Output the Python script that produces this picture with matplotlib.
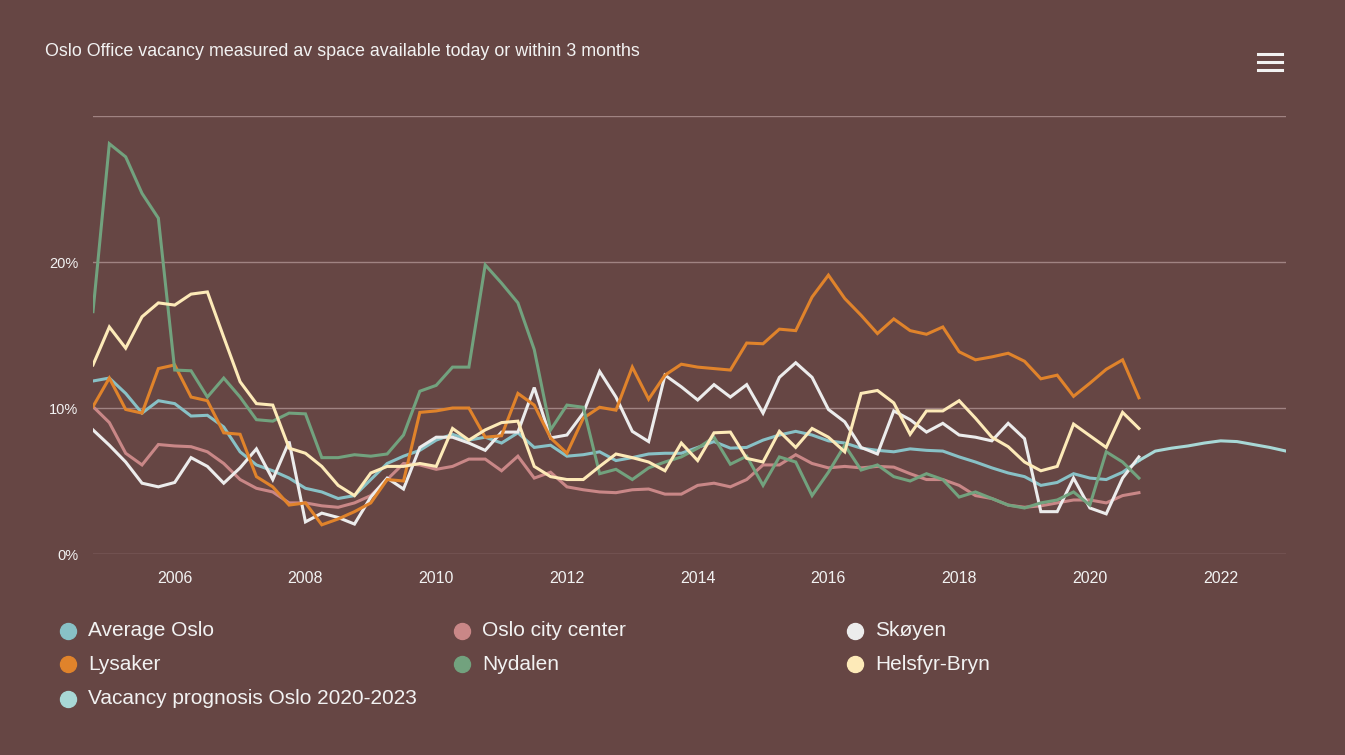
import matplotlib
matplotlib.use("Agg")
import matplotlib.pyplot as plt
from matplotlib.lines import Line2D
import numpy as np

plt.rcParams['font.family'] = ['Liberation Sans', 'DejaVu Sans']

# quarterly observations, Q4 2004 .. Q4 2020
start_year = 2004.75
quarters = np.arange(65) / 4.0 + start_year

average_oslo = [11.85, 12.05, 11.0, 9.65, 10.5, 10.3, 9.45, 9.5, 8.7, 7.0,
                6.1, 5.7, 5.2, 4.5, 4.25, 3.8, 4.0, 5.1, 6.2, 6.7,
                7.1, 7.8, 8.2, 7.8, 8.0, 7.6, 8.3, 7.3, 7.45, 6.7,
                6.8, 7.0, 6.4, 6.6, 6.85, 6.9, 6.9, 7.3, 7.7, 7.25,
                7.3, 7.8, 8.15, 8.4, 8.15, 7.75, 7.6, 7.25, 7.1, 7.0,
                7.2, 7.1, 7.05, 6.65, 6.3, 5.9, 5.55, 5.3, 4.7, 4.9,
                5.5, 5.2, 5.1, 5.6, 6.4]

oslo_city_center = [10.1, 9.0, 6.9, 6.1, 7.5, 7.4, 7.35, 7.0, 6.2, 5.1,
                    4.5, 4.25, 3.5, 3.5, 3.3, 3.2, 3.5, 4.0, 5.1, 6.2,
                    6.1, 5.8, 6.0, 6.5, 6.5, 5.7, 6.7, 5.2, 5.6, 4.6,
                    4.4, 4.25, 4.2, 4.4, 4.45, 4.1, 4.1, 4.7, 4.85, 4.6,
                    5.1, 6.1, 6.1, 6.8, 6.2, 5.9, 6.0, 5.9, 6.0, 5.95,
                    5.5, 5.1, 5.1, 4.7, 4.0, 3.8, 3.35, 3.2, 3.3, 3.5,
                    3.7, 3.7, 3.5, 4.0, 4.2]

skoyen = [8.5, 7.45, 6.3, 4.85, 4.6, 4.9, 6.6, 6.0, 4.85, 5.9,
          7.2, 5.1, 7.7, 2.2, 2.8, 2.5, 2.05, 3.9, 5.2, 4.45,
          7.3, 8.0, 8.0, 7.6, 7.1, 8.35, 8.35, 11.4, 7.95, 8.15,
          9.65, 12.5, 10.75, 8.4, 7.7, 12.25, 11.45, 10.55, 11.6, 10.75,
          11.6, 9.65, 12.1, 13.1, 12.1, 9.9, 9.05, 7.3, 6.85, 9.8,
          9.2, 8.35, 8.95, 8.15, 8.0, 7.75, 8.95, 7.9, 2.9, 2.9,
          5.2, 3.15, 2.75, 5.2, 6.65]

lysaker = [10.1, 12.05, 9.9, 9.65, 12.7, 12.95, 10.75, 10.5, 8.3, 8.2,
           5.3, 4.6, 3.35, 3.5, 2.0, 2.4, 2.9, 3.5, 5.1, 5.0,
           9.7, 9.8, 10.0, 10.0, 8.0, 8.1, 11.0, 10.2, 7.95, 6.9,
           9.3, 10.05, 9.85, 12.8, 10.6, 12.25, 13.0, 12.8, 12.7, 12.6,
           14.45, 14.4, 15.4, 15.3, 17.6, 19.1, 17.5, 16.35, 15.1, 16.1,
           15.3, 15.05, 15.55, 13.85, 13.3, 13.5, 13.75, 13.2, 12.0, 12.25,
           10.8, 11.7, 12.65, 13.3, 10.7]

nydalen = [16.6, 28.1, 27.2, 24.7, 23.0, 12.6, 12.55, 10.75, 12.05, 10.75,
           9.2, 9.1, 9.65, 9.6, 6.6, 6.6, 6.8, 6.7, 6.85, 8.15,
           11.15, 11.55, 12.8, 12.8, 19.8, 18.55, 17.2, 14.0, 8.5, 10.2,
           10.05, 5.5, 5.8, 5.1, 5.9, 6.3, 6.65, 7.25, 8.0, 6.15,
           6.7, 4.7, 6.65, 6.3, 4.0, 5.6, 7.45, 5.75, 6.1, 5.3,
           5.0, 5.5, 5.1, 3.9, 4.25, 3.8, 3.35, 3.15, 3.5, 3.7,
           4.25, 3.35, 7.0, 6.3, 5.2]

helsfyr_bryn = [12.95, 15.55, 14.1, 16.25, 17.2, 17.05, 17.8, 17.95, 14.85, 11.8,
                10.3, 10.2, 7.25, 6.9, 6.0, 4.7, 4.0, 5.55, 6.0, 6.0,
                6.2, 6.0, 8.6, 7.8, 8.5, 9.0, 9.1, 6.0, 5.3, 5.1,
                5.1, 6.0, 6.85, 6.6, 6.3, 5.7, 7.6, 6.4, 8.3, 8.35,
                6.55, 6.3, 8.4, 7.3, 8.6, 8.0, 7.0, 11.0, 11.2, 10.35,
                8.2, 9.8, 9.8, 10.5, 9.3, 8.0, 7.35, 6.3, 5.7, 6.0,
                8.9, 8.1, 7.3, 9.7, 8.6]

# prognosis, Q4 2020 .. 2023
prognosis_x = np.arange(10) / 4.0 + 2020.75
prognosis = [6.4, 7.05, 7.25, 7.4, 7.6, 7.75, 7.7, 7.5, 7.3, 7.05]

names = ["Average Oslo", "Oslo city center", "Skøyen",
         "Lysaker", "Nydalen", "Helsfyr-Bryn",
         "Vacancy prognosis Oslo 2020-2023"]
colors = ["#88c1c6", "#c98787", "#ececec",
          "#e0832b", "#72a27e", "#fdeab8", "#a8d8d6"]
series = [average_oslo, oslo_city_center, skoyen, lysaker, nydalen, helsfyr_bryn]

bg = "#664644"
grid_col = "#a08382"
txt_col = "#f2f2f2"

fig = plt.figure(figsize=(13.45, 7.55), dpi=100, facecolor=bg)
ax = fig.add_axes([93 / 1345, 201 / 755, (1286 - 93) / 1345, (554 - 116) / 755])
ax.set_facecolor(bg)

for vals, col in zip(series, colors[:6]):
    ax.plot(quarters, vals, color=col, lw=2.2, solid_joinstyle='miter')
ax.plot(prognosis_x, prognosis, color=colors[6], lw=2.2)

ax.set_xlim(2004.75, 2023.0)
ax.set_ylim(0, 30)
ax.set_xticks(range(2006, 2023, 2))
ax.set_yticks([0, 10, 20, 30])
ax.set_yticklabels(["0%", "10%", "20%", ""])
ax.grid(axis='y', color=grid_col, lw=1)
ax.set_axisbelow(True)
for s in ax.spines.values():
    s.set_visible(False)
ax.tick_params(length=0, colors=txt_col, labelsize=11.5)
ax.tick_params(axis='y', pad=10.8, labelsize=10.5)
ax.tick_params(axis='x', pad=12)

fig.text(45 / 1345, 1 - 52 / 755, "Oslo Office vacancy measured av space available today or within 3 months",
         color=txt_col, fontsize=12.9, va='center', ha='left')

# hamburger menu
for yy in [54, 62, 70]:
    fig.add_artist(Line2D([1258 / 1345, 1282 / 1345], [1 - yy / 755, 1 - yy / 755],
                          color=txt_col, lw=2.2, transform=fig.transFigure))

# legend, laid out as 3 columns
col_x = [68, 462, 855]
row_y = [631, 664, 699]
for i, (name, col) in enumerate(zip(names, colors)):
    r, c = divmod(i, 3)
    fig.add_artist(Line2D([col_x[c] / 1345], [1 - row_y[r] / 755], marker='o',
                          markersize=11.5, color=col, lw=0, transform=fig.transFigure))
    fig.text((col_x[c] + 20) / 1345, 1 - row_y[r] / 755, name, color=txt_col,
             fontsize=15, va='center', ha='left')

fig.savefig("out.png", dpi=100, facecolor=bg)
